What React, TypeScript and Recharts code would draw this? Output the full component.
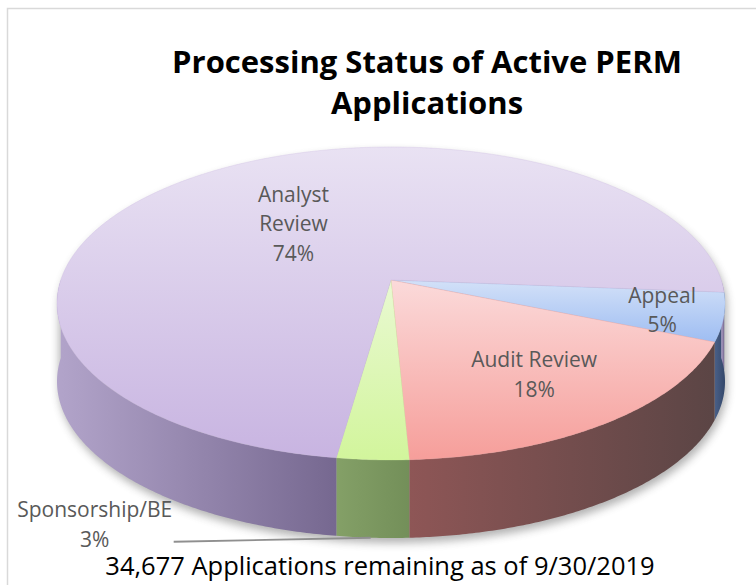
import React from 'react';
import { PieChart, Pie, Cell } from 'recharts';

// ---------- data ----------
const categories = ['Appeal', 'Audit Review', 'Sponsorship/BE', 'Analyst Review'];
const shares = [5, 18, 3, 74];
const titleLines = ['Processing Status of Active PERM', 'Applications'];
const footnote = '34,677 Applications remaining as of 9/30/2019';

// ---------- styles ----------
const topColors = [
  ['#d3e1f8', '#9ebdf2'],
  ['#fbdada', '#f69e9a'],
  ['#e9f9d2', '#d2f59c'],
  ['#e9e2f3', '#c8b4e1'],
];
const wallColors = [
  ['#4a6088', '#33476a'],
  ['#8e5656', '#5b4545'],
  ['#84a067', '#738f59'],
  ['#b2a4ca', '#766890'],
];
const labelRadius = [0.82, 0.69, 0, 0.5];
const FONT = '"Open Sans", "Noto Sans", sans-serif';
const LABEL_COLOR = '#595959';
const TILT = 156.5 / 334; // ry / rx
const PERSP = -0.15; // apex offset (perspective)
const DEPTH = 78;

const data = categories.map((name, i) => ({ name, value: shares[i] }));

type Geo = { cx: number; cy: number; rx: number; ry: number };

function geoFrom(p: any): Geo {
  const rx = p.outerRadius;
  const ry = rx * TILT;
  return { cx: p.cx, cy: p.cy - ry * PERSP, rx, ry };
}

const CH = 1 / Math.sqrt(1 - PERSP * PERSP);
const SH = PERSP * CH;

function proj(g: Geo, aDeg: number, r = 1, drop = 0): [number, number] {
  const a = (aDeg * Math.PI) / 180;
  const x = r * Math.cos(a);
  const y = -r * Math.sin(a);
  const w = y * SH + CH;
  return [g.cx + (g.rx * x) / w, g.cy + (g.ry * (y * CH + SH)) / w + drop];
}

function arc(g: Geo, a0: number, a1: number, drop = 0): [number, number][] {
  const n = Math.max(2, Math.ceil(Math.abs(a1 - a0) * 2));
  const pts: [number, number][] = [];
  for (let i = 0; i <= n; i++) pts.push(proj(g, a0 + ((a1 - a0) * i) / n, 1, drop));
  return pts;
}

function sliceAngles(p: any): [number, number] {
  const half = p.percent * 180;
  return [p.midAngle + half, p.midAngle - half];
}

const toD = (pts: [number, number][]) => pts.map((q, i) => `${i ? 'L' : 'M'}${q[0].toFixed(2)},${q[1].toFixed(2)}`).join(' ');

function renderWalls(p: any) {
  const g = geoFrom(p);
  const [s, e] = sliceAngles(p);
  const lo = Math.min(s, e);
  const hi = Math.max(s, e);
  const parts: React.ReactNode[] = [];
  for (let k = -2; k <= 1; k++) {
    const a = Math.max(lo, -180 + 360 * k);
    const b = Math.min(hi, 360 * k);
    if (b - a > 0.01) {
      const top = arc(g, a, b, 0);
      const bot = arc(g, b, a, DEPTH);
      parts.push(<path key={k} d={toD([...top, ...bot]) + ' Z'} fill={`url(#wall-${p.index})`} />);
    }
  }
  let shadow = null;
  if (p.index === 0) {
    const topE = arc(g, 0, 360, 0);
    const botE = arc(g, 0, 360, DEPTH);
    shadow = (
      <g filter="url(#pieShadow)" transform="translate(2,5)" opacity={0.45}>
        <path d={toD(topE) + ' Z'} fill="#555" />
        <path d={toD(botE) + ' Z'} fill="#555" />
        <rect x={g.cx - g.rx} y={g.cy} width={g.rx * 2} height={DEPTH} fill="#555" />
      </g>
    );
  }
  const wc = wallColors[p.index];
  return (
    <g>
      <defs>
        {p.index === 0 && (
          <filter id="pieShadow" x="-10%" y="-10%" width="120%" height="130%">
            <feGaussianBlur stdDeviation="4" />
          </filter>
        )}
        <linearGradient id={`wall-${p.index}`} x1="0" y1="0" x2="1" y2="0">
          <stop offset="0" stopColor={wc[0]} />
          <stop offset="1" stopColor={wc[1]} />
        </linearGradient>
      </defs>
      {shadow}
      {parts}
    </g>
  );
}

function renderTops(p: any) {
  const g = geoFrom(p);
  const [s, e] = sliceAngles(p);
  const apex = proj(g, 0, 0, 0);
  const pts = [apex, ...arc(g, s, e, 0)];
  const tc = topColors[p.index];
  return (
    <g>
      <defs>
        <linearGradient id={`top-${p.index}`} x1="0" y1="0" x2="0" y2="1">
          <stop offset="0" stopColor={tc[0]} />
          <stop offset="1" stopColor={tc[1]} />
        </linearGradient>
      </defs>
      <path d={toD(pts) + ' Z'} fill={`url(#top-${p.index})`} stroke={tc[1]} strokeWidth={0.3} />
    </g>
  );
}

function renderText(p: any) {
  const g = geoFrom(p);
  const pct = `${Math.round(p.percent * 100)}%`;
  const name: string = p.name;
  const LH = 29.5;
  const half = 7.5;
  if (labelRadius[p.index] > 0) {
    const lines = name === 'Analyst Review' ? [...name.split(' '), pct] : [name, pct];
    const [x, y] = proj(g, p.midAngle, labelRadius[p.index], 0);
    return (
      <g>
        {lines.map((t, i) => (
          <text key={i} x={x} y={y - ((lines.length - 1) / 2) * LH + i * LH + half} textAnchor="middle"
            fontFamily={FONT} fontSize={21} fill={LABEL_COLOR}>{t}</text>
        ))}
      </g>
    );
  }
  // outside label with leader line
  const [bx, by] = proj(g, p.midAngle, 1, DEPTH);
  const lx = bx - 278;
  return (
    <g>
      <line x1={bx - 199} y1={by + 4} x2={bx - 2} y2={by} stroke="#8f8f8f" strokeWidth={1.8} />
      <text x={lx} y={by - 21} textAnchor="middle" fontFamily={FONT} fontSize={21} fill={LABEL_COLOR}>{name}</text>
      <text x={lx} y={by + 9} textAnchor="middle" fontFamily={FONT} fontSize={21} fill={LABEL_COLOR}>{pct}</text>
    </g>
  );
}

const pieCommon = {
  data,
  dataKey: 'value',
  nameKey: 'name',
  cx: 391,
  cy: 280,
  outerRadius: 334,
  startAngle: -4.5,
  endAngle: -364.5,
  isAnimationActive: false,
  labelLine: false,
  stroke: 'none',
} as const;

export default function App() {
  return (
    <div style={{ position: 'absolute', left: 0, top: 0, width: 756, height: 585, background: '#fff', overflow: 'hidden' }}>
      <div style={{ position: 'absolute', left: 0, top: 0 }}>
        <PieChart width={756} height={585} margin={{ top: 0, right: 0, bottom: 0, left: 0 }}>
          <Pie {...pieCommon} label={renderWalls}>
            {data.map((d, i) => <Cell key={i} fill="transparent" />)}
          </Pie>
          <Pie {...pieCommon} label={renderTops}>
            {data.map((d, i) => <Cell key={i} fill="transparent" />)}
          </Pie>
          <Pie {...pieCommon} label={renderText}>
            {data.map((d, i) => <Cell key={i} fill="transparent" />)}
          </Pie>
        </PieChart>
      </div>
      <svg width={756} height={585} style={{ position: 'absolute', left: 0, top: 0, pointerEvents: 'none' }}>
        <rect x={7.5} y={8.5} width={800} height={700} fill="none" stroke="#d9d9d9" strokeWidth={1.5} />
        {titleLines.map((t, i) => (
          <text key={i} x={427} y={73 + i * 41} textAnchor="middle" fontFamily={FONT} fontWeight={700} fontSize={31} fill="#000">{t}</text>
        ))}
        <text x={380} y={575} textAnchor="middle" fontFamily={FONT} fontSize={25.5} fill="#000">{footnote}</text>
      </svg>
    </div>
  );
}
